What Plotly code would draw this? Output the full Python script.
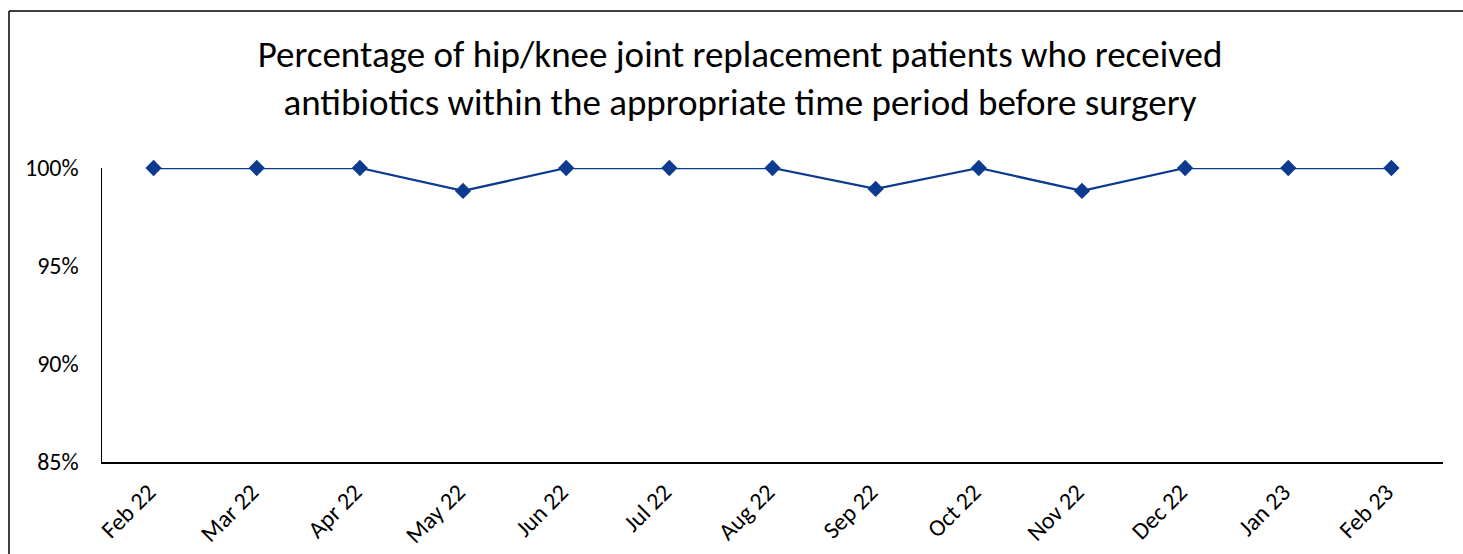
import plotly.graph_objects as go

months = ["Feb 22", "Mar 22", "Apr 22", "May 22", "Jun 22", "Jul 22", "Aug 22",
          "Sep 22", "Oct 22", "Nov 22", "Dec 22", "Jan 23", "Feb 23"]
pct = [1.0, 1.0, 1.0, 0.9883, 1.0, 1.0, 1.0, 0.9893, 1.0, 0.9883, 1.0, 1.0, 1.0]
y_ticks = [0.85, 0.90, 0.95, 1.00]
y_tick_text = ["85%", "90%", "95%", "100%"]

title = ("Percentage of hip/knee joint replacement patients who received<br>"
         "antibiotics within the appropriate time period before surgery")

W, H = 1463, 554
ml, mr, mt, mb = 102, 20, 168, 92
pw, ph = W - ml - mr, H - mt - mb

fig = go.Figure()
fig.add_trace(go.Scatter(
    x=months, y=pct, mode="lines+markers",
    line=dict(color="#0B3A8F", width=2.25),
    marker=dict(symbol="diamond", size=12.5, color="#0B3A8F"),
    cliponaxis=False, showlegend=False,
))

font_family = "Carlito, Calibri, Lato, 'Open Sans', sans-serif"
fig.update_layout(
    width=W, height=H, autosize=False,
    margin=dict(l=ml, r=mr, t=mt, b=mb, autoexpand=False),
    paper_bgcolor="white", plot_bgcolor="white",
    font=dict(family=font_family, color="#000000", size=24),
    title=dict(text=title, x=740 / W, xref="container", xanchor="center",
               y=1 - 67 / H, yref="container", yanchor="middle",
               automargin=False,
               font=dict(size=37, family=font_family, color="#000000")),
    xaxis=dict(type="category", range=[-0.5, 12.5], showgrid=False,
               showline=True, linecolor="#000000", linewidth=1.5,
               ticks="outside", ticklen=5, tickcolor="rgba(0,0,0,0)",
               ticklabelshift=-5,
               tickangle=-45, tickfont=dict(size=24), zeroline=False,
               automargin=False, fixedrange=True),
    yaxis=dict(range=[0.85, 1.0], tickvals=y_ticks, ticktext=y_tick_text,
               showgrid=False, showline=True, linecolor="#000000", linewidth=1.5,
               ticks="outside", ticklen=17, tickcolor="rgba(0,0,0,0)",
               tickfont=dict(size=24), zeroline=False,
               automargin=False, fixedrange=True),
)

# outer chart border: only its left and top edges fall inside the frame
bx = (9 - ml) / pw
by = (mt + ph - 11) / ph
fig.add_shape(type="line", xref="paper", yref="paper",
              x0=bx, x1=bx, y0=-mb / ph, y1=by,
              line=dict(color="#000000", width=1.5), layer="below")
fig.add_shape(type="line", xref="paper", yref="paper",
              x0=bx, x1=(W - ml) / pw, y0=by, y1=by,
              line=dict(color="#000000", width=1.5), layer="below")

fig.write_html(
    "out.html",
    config={"displayModeBar": False, "staticPlot": True},
    post_script="document.documentElement.style.margin='0';"
                "document.body.style.margin='0';"
                "document.body.style.overflow='hidden';",
)
